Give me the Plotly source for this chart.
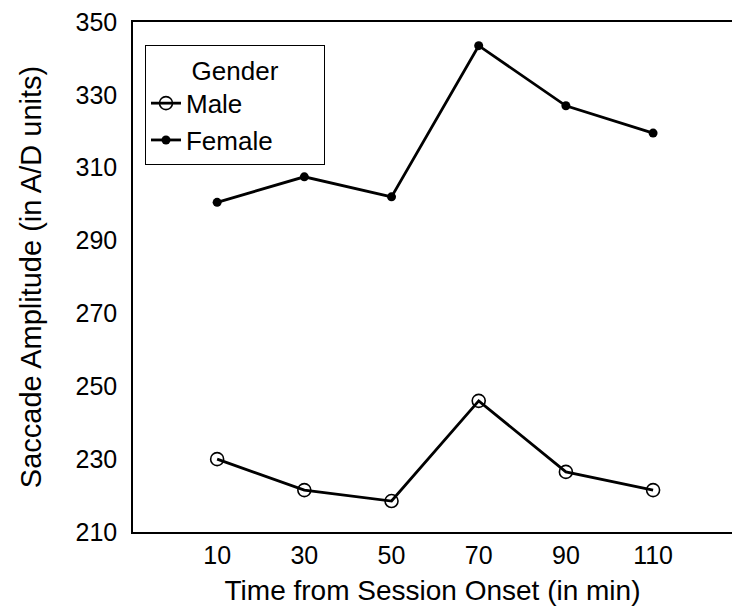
import plotly.graph_objects as go

# Session time points (minutes from onset)
time_min = [10, 30, 50, 70, 90, 110]

# Mean saccade amplitude by gender (A/D units)
male_amp = [230, 221.5, 218.5, 246, 226.5, 221.5]
female_amp = [300.5, 307.5, 302, 343.5, 327, 319.5]

y_ticks = [210, 230, 250, 270, 290, 310, 330, 350]

FONT = "Liberation Sans, Arial, sans-serif"
PAD = "\u00a0" * 6  # widens the legend box around the centred title

fig = go.Figure()

fig.add_trace(go.Scatter(
    x=time_min, y=male_amp, name="Male", mode="lines+markers",
    line=dict(color="black", width=2.8),
    marker=dict(symbol="circle-open", size=13, color="black", line=dict(width=1.6)),
))
fig.add_trace(go.Scatter(
    x=time_min, y=female_amp, name="Female", mode="lines+markers",
    line=dict(color="black", width=2.8),
    marker=dict(symbol="circle", size=9, color="black"),
))

fig.update_layout(
    width=732, height=615,
    margin=dict(l=133, r=0, t=22, b=83),
    paper_bgcolor="white", plot_bgcolor="white",
    font=dict(family=FONT, size=26, color="black"),
    showlegend=True,
    legend=dict(
        title=dict(text=PAD + "Gender" + PAD, side="top center", font=dict(size=26)),
        x=0.02, y=0.955, xanchor="left", yanchor="top",
        bgcolor="white", bordercolor="black", borderwidth=1,
        font=dict(size=26), itemwidth=30, tracegroupgap=0,
    ),
    xaxis=dict(
        range=[-9.3, 128.1], tickvals=time_min,
        showgrid=False, zeroline=False,
        showline=True, linecolor="black", linewidth=1.5, mirror=True,
        ticks="", ticklabelstandoff=0,
        tickfont=dict(size=25),
        title=dict(text="Time from Session Onset (in min)", font=dict(size=28), standoff=13),
    ),
    yaxis=dict(
        range=[210, 350], tickvals=y_ticks,
        showgrid=False, zeroline=False,
        showline=True, linecolor="black", linewidth=1.5,
        ticks="", ticklabelstandoff=9,
        tickfont=dict(size=25),
        title=dict(text="Saccade Amplitude (in A/D units)", font=dict(size=29), standoff=25),
    ),
)

fig.write_html("out.html")
